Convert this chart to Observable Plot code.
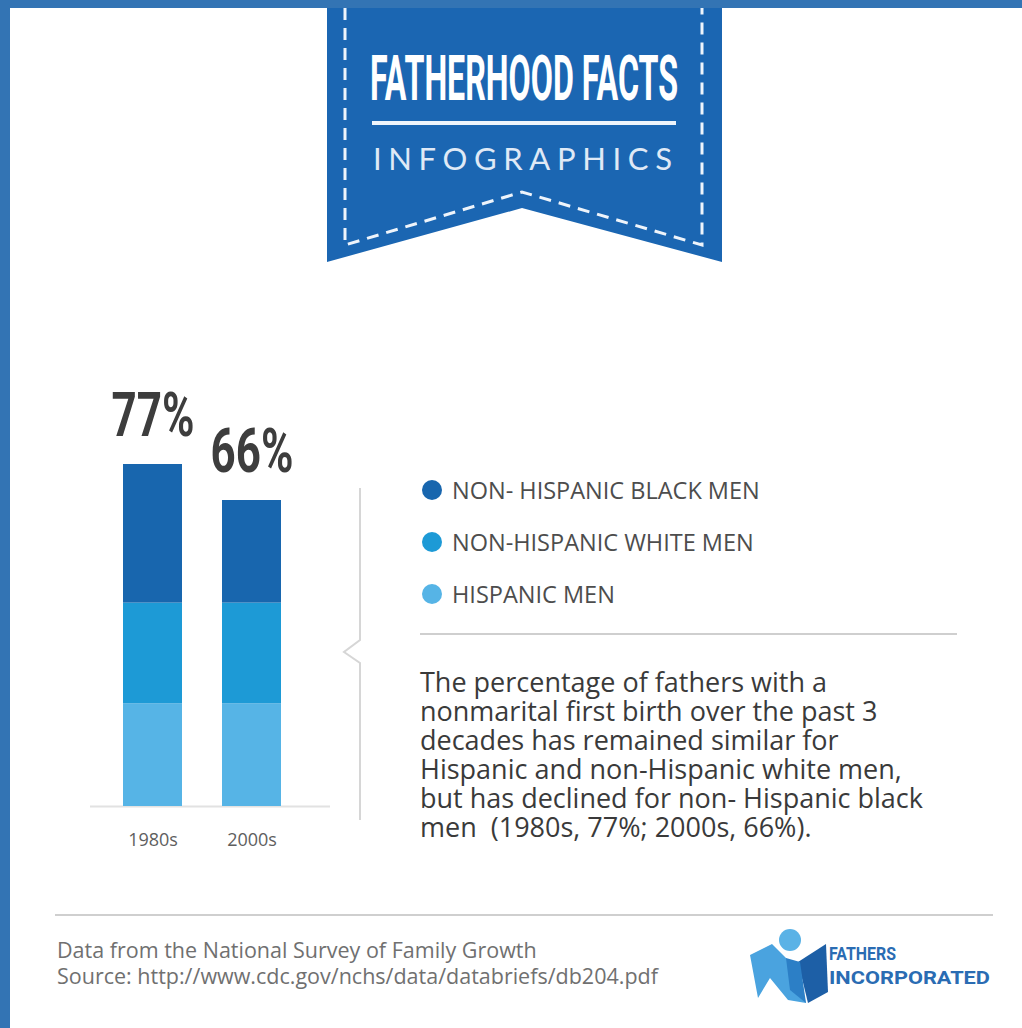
<!DOCTYPE html>
<html><head><meta charset="utf-8">
<script src="https://cdn.jsdelivr.net/npm/d3@7"></script>
<script src="https://cdn.jsdelivr.net/npm/@observablehq/plot@0.6"></script>
<style>
html,body{margin:0;padding:0;background:#fff;}
#page{position:relative;width:1022px;height:1028px;overflow:hidden;background:#fff;font-family:"Open Sans",sans-serif;}
.abs{position:absolute;}
#legend .row{display:flex;align-items:center;height:52px;}
#legend .dot{width:20px;height:20px;border-radius:50%;margin-right:10px;flex:none;}
#legend .lab{font-size:23.5px;color:#4d4d4d;white-space:nowrap;}
#desc{left:420px;top:667px;font-size:27px;line-height:29px;color:#3a3a3a;white-space:pre;}
#source{left:57px;top:937px;font-size:21.5px;line-height:26px;color:#707070;white-space:pre;}
</style></head><body>
<div id="page">
  <svg class="abs" style="left:0;top:0" width="1022" height="1028">
    <polygon points="327,0 722,0 722,262 522,208 327,262" fill="#1b66b2"/>
    <polyline points="345,8 345,245 522,192 702,245 702,8" fill="none" stroke="#eef4fb" stroke-width="3" stroke-dasharray="12 8"/>
    <text x="370" y="100" textLength="308" lengthAdjust="spacingAndGlyphs" font-family="Roboto" font-weight="bold" font-size="63" fill="#fff">FATHERHOOD FACTS</text>
    <rect x="372" y="121" width="304" height="4" fill="#eef4fb"/>
    <text x="373" y="170" textLength="299" lengthAdjust="spacing" font-family="Lato" font-weight="400" font-size="31" fill="#dfe9f6">INFOGRAPHICS</text>
    <polyline points="360,488 360,640 344,652 360,663 360,820" fill="none" stroke="#d6d6d6" stroke-width="2"/>
    <line x1="420" y1="634" x2="957" y2="634" stroke="#cfcfcf" stroke-width="2"/>
    <line x1="55" y1="915" x2="993" y2="915" stroke="#cfcfcf" stroke-width="2"/>
    <g>
      <polygon points="750,955 772,944 796,968 806,1003 788,1000 770,978 758,998" fill="#4aa3df"/>
      <polygon points="798,962 826,944 828,992 808,1003" fill="#1d5fa6"/>
      <polygon points="786,958 800,962 806,1003 790,990" fill="#2c7fc6"/>
      <circle cx="790" cy="940" r="11" fill="#5ab2e6"/>
      <text x="829" y="960" textLength="67" lengthAdjust="spacingAndGlyphs" font-family="Roboto" font-weight="bold" font-size="19" fill="#2a6cb3">FATHERS</text>
      <text x="829" y="984" textLength="161" lengthAdjust="spacingAndGlyphs" font-family="Roboto" font-weight="bold" font-size="19" fill="#2a6cb3">INCORPORATED</text>
    </g>
  </svg>
  <div class="abs" style="left:0;top:0;width:1022px;height:8px;background:#3374b4"></div>
  <div class="abs" style="left:0;top:0;width:10px;height:1028px;background:#3374b4"></div>
  <div id="chart" class="abs" style="left:80px;top:380px;"></div>
  <div id="legend" class="abs" style="left:422px;top:464px;"></div>
  <div id="desc" class="abs"></div>
  <div id="source" class="abs"></div>
</div>
<script>
const decades = ["1980s", "2000s"];
const seriesNames = ["NON- HISPANIC BLACK MEN", "NON-HISPANIC WHITE MEN", "HISPANIC MEN"];
const blackMen = [77, 57];
const whiteMen = [56, 56];
const hispanicMen = [57, 57];
const topLabels = ["77%", "66%"];
const seriesColors = ["#1866ae", "#1d9ad6", "#56b4e6"];
const descriptionLines = [
  "The percentage of fathers with a",
  "nonmarital first birth over the past 3",
  "decades has remained similar for",
  "Hispanic and non-Hispanic white men,",
  "but has declined for non- Hispanic black",
  "men  (1980s, 77%; 2000s, 66%)."
];
const sourceLines = [
  "Data from the National Survey of Family Growth",
  "Source: http://www.cdc.gov/nchs/data/databriefs/db204.pdf"
];

// stacked rows: bottom to top
const rows = [];
decades.forEach((d, i) => {
  rows.push({decade: d, series: seriesNames[2], value: hispanicMen[i]});
  rows.push({decade: d, series: seriesNames[1], value: whiteMen[i]});
  rows.push({decade: d, series: seriesNames[0], value: blackMen[i]});
});
const totals = decades.map((d, i) => ({decade: d, total: hispanicMen[i] + whiteMen[i] + blackMen[i], label: topLabels[i]}));

const chart = Plot.plot({
  width: 260, height: 480,
  marginTop: 66, marginBottom: 54, marginLeft: 10, marginRight: 10,
  style: {fontFamily: "Open Sans", fontSize: "18px", color: "#5e5e5e", background: "transparent", overflow: "visible"},
  x: {domain: decades, paddingInner: 0.4, paddingOuter: 0.4, align: 0.41, tickSize: 0, tickPadding: 27, label: null},
  y: {domain: [0, 200], axis: null},
  color: {domain: seriesNames, range: seriesColors},
  marks: [
    Plot.ruleY([0], {stroke: "#e2e2e2", strokeWidth: 2}),
    Plot.barY(rows, {x: "decade", y: "value", fill: "series"}),
    Plot.text(totals, {x: "decade", y: "total", text: "label", dy: -29, lineAnchor: "bottom", fontSize: 61, fontWeight: "bold", fontFamily: "Roboto", fill: "#3d3d3d"})
  ]
});
document.getElementById("chart").append(chart);
// condense the big percentage labels horizontally (scale about their anchor)
d3.select(chart).selectAll("text").filter(function () { return /%$/.test(this.textContent); }).each(function () {
  const x = +this.getAttribute("x") || 0, y = +this.getAttribute("y") || 0;
  const t = this.getAttribute("transform") || "";
  this.removeAttribute("x"); this.removeAttribute("y");
  this.setAttribute("transform", `${t} translate(${x},${y}) scale(0.72,1)`);
});

const legend = d3.select("#legend");
seriesNames.forEach((s, i) => {
  const r = legend.append("div").attr("class", "row");
  r.append("div").attr("class", "dot").style("background", seriesColors[i]);
  r.append("div").attr("class", "lab").text(s);
});
document.getElementById("desc").textContent = descriptionLines.join("\n");
document.getElementById("source").textContent = sourceLines.join("\n");
</script>
</body></html>
